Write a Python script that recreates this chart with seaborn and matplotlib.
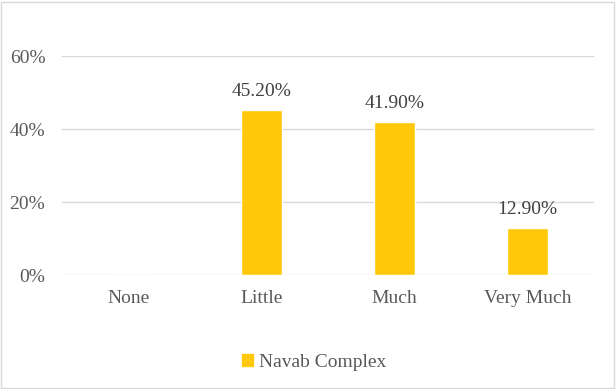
import matplotlib
matplotlib.use("Agg")
import matplotlib.pyplot as plt
import seaborn as sns
import pandas as pd
from matplotlib.ticker import PercentFormatter
from matplotlib.patches import Rectangle

categories = ["None", "Little", "Much", "Very Much"]
values = [0.0, 45.2, 41.9, 12.9]
series_name = "Navab Complex"
yticks = [0, 20, 40, 60]

sns.set_theme(style="white")
plt.rcParams["font.family"] = ["Liberation Serif", "DejaVu Serif"]

text_color = "#595959"
bar_color = "#FFC80A"
grid_color = "#D9D9D9"

df = pd.DataFrame({"category": categories, "value": values, "series": series_name})

fig = plt.figure(figsize=(6.16, 3.89), dpi=100)
ax = fig.add_axes([0.1006, 0.293, 0.8636, 0.563])

sns.barplot(data=df, x="category", y="value", hue="series", palette=[bar_color],
            width=0.315, ax=ax, legend=False, saturation=1)

ax.set_ylim(0, 60)
ax.set_yticks(yticks)
ax.yaxis.set_major_formatter(PercentFormatter(decimals=0))
ax.set_xlim(-0.5, len(categories) - 0.5)
ax.grid(axis="y", color=grid_color, linewidth=1)
ax.set_axisbelow(True)
for s in ax.spines.values():
    s.set_visible(False)
ax.tick_params(axis="both", length=0, labelsize=14, colors=text_color)
ax.tick_params(axis="y", pad=12)
ax.tick_params(axis="x", pad=11)
ax.set_xlabel("")
ax.set_ylabel("")

for container in ax.containers:
    labels = [f"{v:.2f}%" if v > 0 else "" for v in container.datavalues]
    ax.bar_label(container, labels=labels, padding=7, fontsize=14, color="#404040")

handle = Rectangle((0, 0), 1, 1, color=bar_color)
fig.legend([handle], [series_name], loc="center", bbox_to_anchor=(0.51, 0.068),
           frameon=False, fontsize=14, handlelength=0.6, handleheight=0.6,
           handletextpad=0.3, labelcolor=text_color)

fig.patches.append(Rectangle((0.002, 0.002), 0.994, 0.994, transform=fig.transFigure,
                             fill=False, edgecolor="#D9D9D9", linewidth=1))

fig.savefig("out.png", dpi=100, facecolor="white")
